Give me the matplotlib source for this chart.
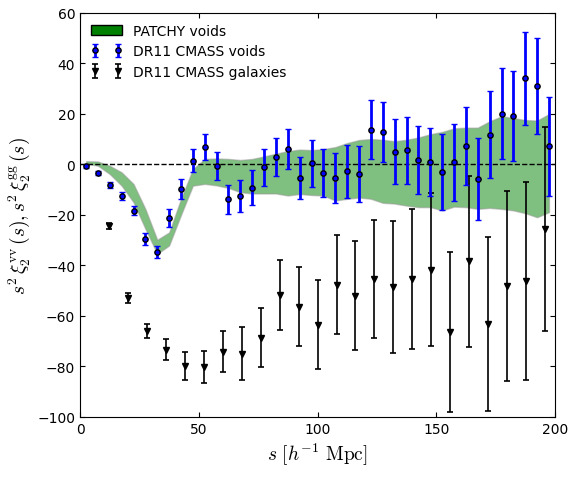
import numpy as np
import matplotlib
matplotlib.use("Agg")
import matplotlib.pyplot as plt
from matplotlib.patches import Rectangle

# DR11 CMASS voids, s^2 xi_2^vv
s_voids = np.arange(2.5, 200, 5.0)
xi_voids = [-0.8, -3.2, -8.0, -12.5, -18.3, -29.5, -34.6, -21.2, -9.7, 1.5,
            6.9, -0.5, -13.8, -12.5, -9.2, -1.2, 3.0, 6.2, -5.3, 0.4,
            -3.3, -5.4, -2.7, -3.8, 13.8, 12.7, 5.1, 5.6, 1.8, 0.9,
            -3.0, 0.9, 7.4, -5.6, 11.7, 20.1, 19.1, 34.1, 31.0, 7.2]
err_voids = [0.6, 0.8, 1.2, 1.5, 1.8, 2.5, 2.5, 3.6, 4.0, 4.5,
             5.1, 5.5, 5.8, 6.2, 6.9, 7.3, 7.5, 7.9, 8.2, 9.2,
             9.6, 9.9, 10.4, 11.1, 11.6, 11.9, 12.8, 13.3, 13.6, 13.5,
             15.0, 15.3, 15.5, 16.2, 17.2, 18.0, 17.8, 18.3, 19.0, 19.5]

# DR11 CMASS galaxies, s^2 xi_2^gg
s_gal = np.arange(12, 200, 8.0)
xi_gal = [-24.4, -52.9, -66.1, -73.4, -79.8, -80.2, -74.2, -74.9, -68.7, -51.7,
          -56.4, -63.4, -47.6, -52.0, -45.3, -48.5, -45.5, -41.6, -66.4, -38.4,
          -63.3, -48.1, -46.1, -25.5]
err_gal = [1.1, 2.0, 2.8, 4.2, 5.5, 6.5, 8.1, 10.5, 11.7, 13.8,
           15.6, 17.6, 19.7, 21.5, 23.4, 26.0, 27.7, 30.3, 31.7, 34.0,
           34.4, 37.7, 39.3, 40.5]

# PATCHY mock voids band
band_hi = [1.3, 1.2, -0.5, -3.1, -7.7, -17.6, -29.8, -26.9, -13.6, -1.8,
           2.2, 2.4, 2.2, 1.8, 2.2, 3.2, 4.3, 5.3, 5.9, 5.7,
           6.1, 6.9, 8.5, 9.7, 10.1, 9.8, 9.2, 9.8, 10.7, 12.0,
           12.9, 14.3, 14.6, 14.6, 17.1, 19.1, 18.4, 17.6, 17.4, 20.0]
band_lo = [0.4, -0.5, -3.8, -8.4, -15.0, -25.5, -35.4, -32.1, -20.0, -8.4,
           -7.7, -8.3, -9.3, -11.0, -11.5, -11.5, -11.5, -12.3, -11.7, -12.1,
           -12.3, -14.3, -13.6, -13.1, -13.6, -15.2, -15.5, -16.3, -16.9, -16.9,
           -18.2, -16.7, -16.9, -17.6, -17.2, -17.6, -18.2, -19.3, -20.9, -18.9]

plt.rcParams["font.size"] = 10
plt.rcParams["xtick.direction"] = "in"
plt.rcParams["ytick.direction"] = "in"
plt.rcParams["mathtext.fontset"] = "cm"

fig = plt.figure(figsize=(5.68, 4.81), dpi=100)
ax = fig.add_axes([0.141, 0.131, 0.836, 0.840])

ax.fill_between(s_voids, band_lo, band_hi, facecolor="green", alpha=0.5,
                edgecolor="0.6", linewidth=1, zorder=1)
ax.axhline(0, color="k", ls="--", lw=1, zorder=2)

ev = ax.errorbar(s_voids, xi_voids, yerr=err_voids, fmt="o", color="b",
                 mfc="b", mec="k", mew=1, ms=3.8, elinewidth=2, capsize=2.5,
                 capthick=1.5, zorder=4)
eg = ax.errorbar(s_gal, xi_gal, yerr=err_gal, fmt="v", color="k",
                 ms=3.8, elinewidth=1.2, capsize=2.5, capthick=1.2, zorder=3)

proxy = Rectangle((0, 0), 1, 1, fc="green", ec="k")
ax.legend([proxy, ev, eg], ["PATCHY voids", "DR11 CMASS voids", "DR11 CMASS galaxies"],
          loc="upper left", frameon=False, numpoints=2, fontsize=10,
          handlelength=2.2, borderaxespad=0.4, labelspacing=0.45)

ax.set_xlim(0, 200)
ax.set_ylim(-100, 60)
ax.set_xticks([0, 50, 100, 150, 200])
ax.set_yticks(np.arange(-100, 61, 20))
ax.tick_params(top=True, right=True, length=3.5, labelsize=10)
ax.set_xlabel(r"$s\ [h^{-1}\ \mathrm{Mpc}]$", fontsize=14)
ax.set_ylabel(r"$s^2\,\xi_2^{\rm vv}\,(s), s^2\,\xi_2^{\rm gg}\,(s)$", fontsize=14)

fig.savefig("out.png", dpi=100)
